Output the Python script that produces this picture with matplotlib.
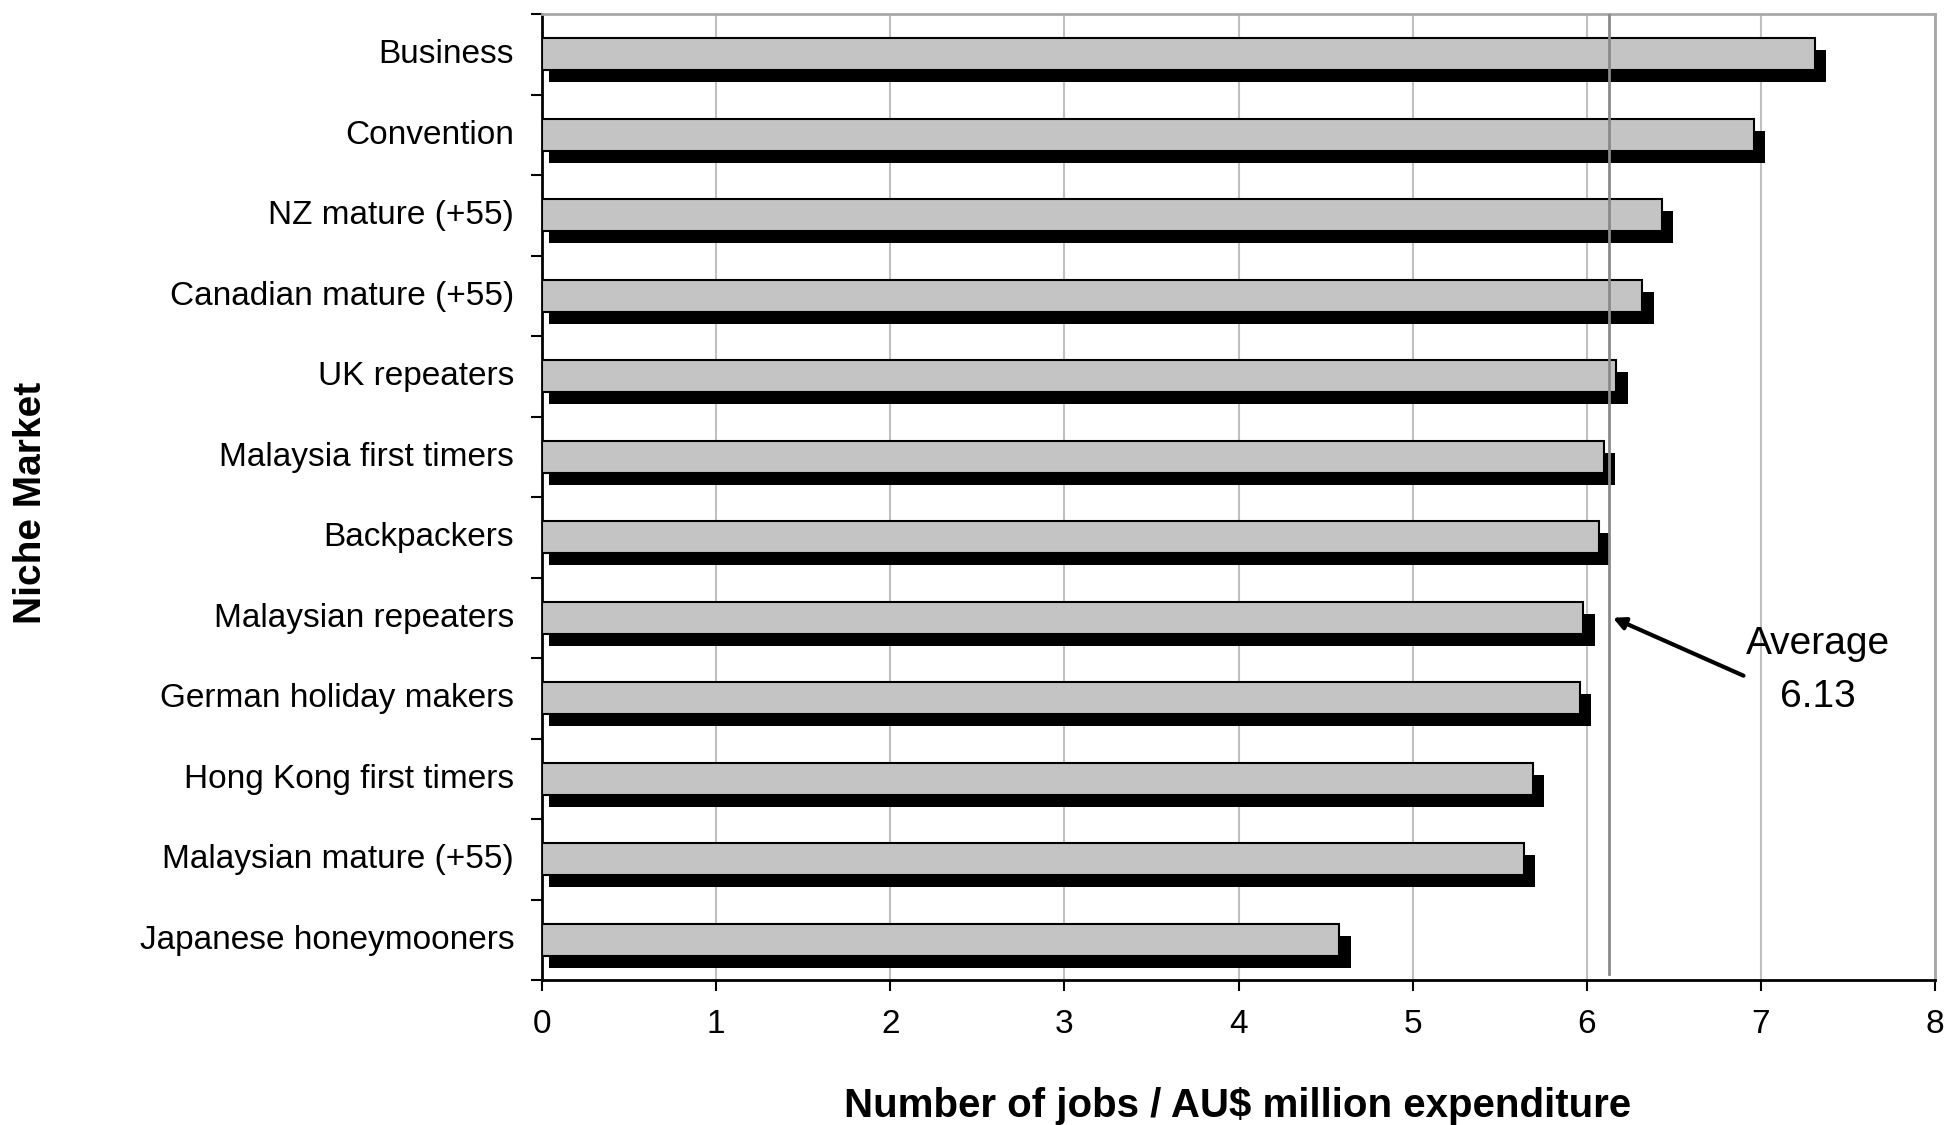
import matplotlib.pyplot as plt
import matplotlib.transforms as mtransforms
import numpy as np

# niche markets, top to bottom
markets = [
    'Business', 'Convention', 'NZ mature (+55)', 'Canadian mature (+55)',
    'UK repeaters', 'Malaysia first timers', 'Backpackers',
    'Malaysian repeaters', 'German holiday makers', 'Hong Kong first timers',
    'Malaysian mature (+55)', 'Japanese honeymooners',
]
jobs = [7.31, 6.96, 6.43, 6.32, 6.17, 6.10, 6.07, 5.98, 5.96, 5.69, 5.64, 4.58]
average = 6.13
x_ticks = [0, 1, 2, 3, 4, 5, 6, 7, 8]

plt.rcParams['font.family'] = ['Liberation Sans', 'DejaVu Sans']

fig = plt.figure(figsize=(19.46, 11.25), dpi=100)
ax = fig.add_axes([542 / 1946, 1 - 980 / 1125, (1935 - 542) / 1946, (980 - 14) / 1125])

y = np.arange(len(markets))
vals = np.array(jobs)

# shadow bars (offset right/down) then grey face bars
ax.barh(y + 0.15, vals + 0.025, left=0.04, height=0.4, color='black', zorder=2)
ax.barh(y, vals, height=0.4, color='#c4c4c4', edgecolor='black', linewidth=1.5, zorder=3)

# average line
ax.axvline(average, ymin=0.006, ymax=1, color='#8a8a8a', linewidth=2, zorder=4)
ax.annotate('Average\n' + f'{average:.2f}', xy=(average + 0.02, 7.0), xytext=(7.33, 7.66),
            ha='center', va='center', fontsize=28, linespacing=1.6,
            arrowprops=dict(arrowstyle='-|>', color='black', lw=3,
                            mutation_scale=18, shrinkA=0, shrinkB=0,
                            relpos=(0.1, 0.36)),
            zorder=5)

ax.set_xlim(0, 8)
ax.set_ylim(len(markets) - 0.5, -0.5)
ax.set_xticks(x_ticks)
ax.set_xticklabels([str(t) for t in x_ticks], fontsize=24)
ax.xaxis.grid(True, color='#c0c0c0', linewidth=1.5, zorder=0)
ax.set_axisbelow(True)

ax.set_yticks(y)
ax.set_yticklabels(markets, fontsize=24)
ax.set_yticks(np.arange(-0.5, len(markets), 1), minor=True)
ax.tick_params(axis='y', which='major', length=0, pad=20)
ax.tick_params(axis='y', which='minor', length=8, width=1.5, direction='out')
ax.tick_params(axis='x', length=8, width=1.5, direction='out', pad=13)

# labels sit a touch above the bar centres
shift = mtransforms.ScaledTranslation(0, 0.03, fig.dpi_scale_trans)
for lbl in ax.get_yticklabels():
    lbl.set_transform(lbl.get_transform() + shift)

for s in ['left', 'bottom']:
    ax.spines[s].set_color('black')
    ax.spines[s].set_linewidth(2)
for s in ['top', 'right']:
    ax.spines[s].set_color('#a8a8a8')
    ax.spines[s].set_linewidth(2)

fig.text(31 / 1946, 1 - 503 / 1125, 'Niche Market', rotation=90, fontsize=28,
         fontweight='bold', ha='center', va='center')
fig.text(1238 / 1946, 1 - 1106 / 1125, 'Number of jobs / AU$ million expenditure',
         fontsize=29, fontweight='bold', ha='center', va='center')

fig.savefig('out.png', dpi=100)
